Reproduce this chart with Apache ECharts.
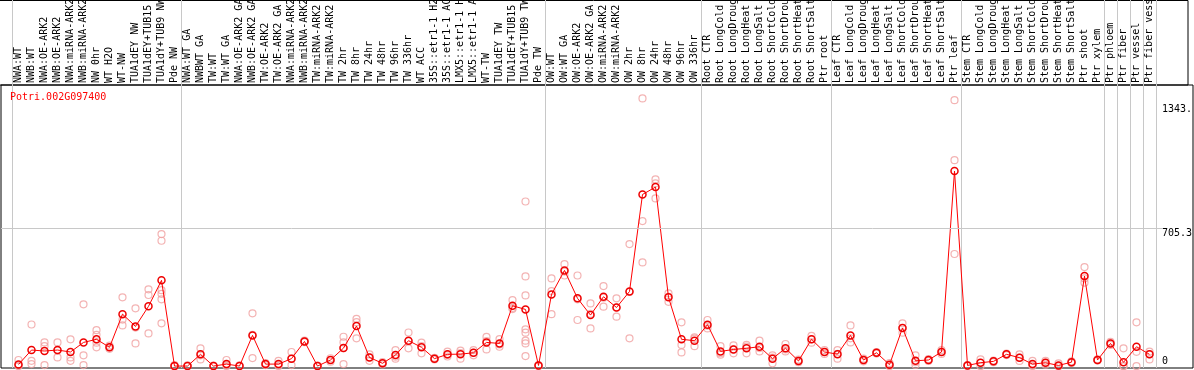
<!DOCTYPE html>
<html><head><meta charset="utf-8">
<script src="https://cdn.jsdelivr.net/npm/echarts@6/dist/echarts.min.js"></script>
<style>html,body{margin:0;padding:0;background:#fff}#c{width:1194px;height:370px}</style>
</head><body><div id="c"></div>
<script>
const geneName = 'Potri.002G097400';
const categories = [
  'NWA:WT','NWB:WT','NWA:OE-ARK2','NWB:OE-ARK2','NWA:miRNA-ARK2','NWB:miRNA-ARK2','NW 0hr','WT H2O','WT-NW',
  'TUA1dEY NW','TUA1dEY+TUB15','TUA1dY+TUB9 NW','Pde NW',
  'NWA:WT GA','NWBWT GA','TW:WT','TW:WT GA','NWA:OE-ARK2 GA','NWB:OE-ARK2 GA','TW:OE-ARK2','TW:OE-ARK2 GA',
  'NWA:miRNA-ARK2','NWB:miRNA-ARK2','TW:miRNA-ARK2','TW:miRNA-ARK2','TW 2hr','TW 8hr','TW 24hr','TW 48hr','TW 96hr','TW 336hr',
  'WT ACC','35S::etr1-1 H2O','35S::etr1-1 ACC','LMX5::etr1-1 H2O','LMX5::etr1-1 ACC','WT-TW','TUA1dEY TW','TUA1dEY+TUB15','TUA1dY+TUB9 TW','Pde TW',
  'OW:WT','OW:WT GA','OW:OE-ARK2','OW:OE-ARK2 GA','OW:miRNA-ARK2','OW:miRNA-ARK2','OW 2hr','OW 8hr','OW 24hr','OW 48hr','OW 96hr','OW 336hr',
  'Root CTR','Root LongCold','Root LongDrought','Root LongHeat','Root LongSalt','Root ShortCold','Root ShortDrought','Root ShortHeat','Root ShortSalt','Ptr root',
  'Leaf CTR','Leaf LongCold','Leaf LongDrought','Leaf LongHeat','Leaf LongSalt','Leaf ShortCold','Leaf ShortDrought','Leaf ShortHeat','Leaf ShortSalt','Ptr leaf',
  'Stem CTR','Stem LongCold','Stem LongDrought','Stem LongHeat','Stem LongSalt','Stem ShortCold','Stem ShortDrought','Stem ShortHeat','Stem ShortSalt','Ptr shoot','Ptr xylem',
  'Ptr phloem','Ptr fiber','Ptr vessel','Ptr fiber vessel'
];
const meanValues = [
  8,82,77,82,72,121,137,96,266,203,306,439,0,
  0,60,0,10,0,157,10,10,38,126,0,31,92,205,44,14,56,130,
  96,38,60,61,68,121,116,309,290,3,
  367,490,347,261,355,300,382,879,917,352,137,130,
  212,75,85,91,99,38,91,26,137,72,
  61,157,31,68,7,195,27,31,72,999,
  3,17,24,60,43,10,17,3,20,461,31,
  116,19,99,60
];
const replicateValues = [
  [31,3,0],[213,27,10],[121,102,5],[121,44,80],[137,44,27],[316,55,5],[184,160,120,96],[105,96,88],[352,238,208],
  [296,197,116],[393,364,167],[676,642,389,370,342,219],[5,0,0],
  [3,0],[91,55,34],[2,0],[31,5,0],[3,0],[270,160,41],[15,8,5],[27,5,0],[72,38,5],[130,126,122],[2,0],[40,31,22],
  [150,121,92,10],[242,225,142],[60,44,27],[20,14,8],[82,48,38],[172,127,91],
  [120,102,65],[42,38,34],[74,57,49],[79,66,38],[82,68,55],[149,128,85],[138,111,99],[338,298,292],
  [843,459,362,188,171,130,116,51],[5,2,0],
  [449,384,266],[522,484,464],[464,342,236],[321,268,193],[410,350,304],[347,300,253],[625,380,142],
  [1371,743,531],[956,936,859],[372,355,329],[224,108,70],[147,140,102],
  [236,207,193],[102,58,65],[106,85,65],[108,100,65],[130,92,75],[43,55,14],[113,85,75],[33,26,20],[155,137,120],[82,72,62],
  [82,62,38],[208,142,121],[38,31,24],[72,68,64],[15,5,0],[219,195,171],[55,20,6],[36,31,26],[82,72,62],[1362,1055,574],
  [5,3,0],[34,17,0],[28,24,20],[64,60,56],[60,43,26],[27,5,0],[27,17,7],[14,0,0],[24,20,16],[507,449,427],[34,31,28],
  [124,116,108],[91,0,0],[224,73,0],[74,60,34]
];
const yTickValues = [0, 705.3, 1343];
const yTickLabels = ['0', '705.3', '1343.'];
const groupStarts = [0, 13, 41, 53, 63, 73, 84, 85, 86, 87];
const gridLineValue = 705.3;

const FONT = 'DejaVu Sans Mono';
const Y_MIN = -10, Y_MAX = 1440;
const GRID_COLOR = '#c8c8c8';

const repData = [];
replicateValues.forEach((arr, i) => arr.forEach(v => repData.push([i, v])));
const tickLabel = v => { const k = yTickValues.indexOf(v); return k >= 0 ? yTickLabels[k] : ''; };
const sepInterval = (idx) => groupStarts.indexOf(idx) >= 0;

const chart = echarts.init(document.getElementById('c'), null, {renderer: 'canvas'});
chart.setOption({
  animation: false,
  backgroundColor: '#fff',
  title: {text: geneName, left: 10, top: 92, padding: 0,
    textStyle: {color: '#ff0000', fontSize: 10, fontWeight: 'normal', fontFamily: FONT}},
  grid: [
    {left: 12, right: 38, top: 85, bottom: 2, outerBoundsMode: 'none', containLabel: false},
    {left: 1, right: 31, top: 85, bottom: 2, outerBoundsMode: 'none'},
    {left: 1, right: 1, top: 85, bottom: 2, show: true, borderColor: '#000', borderWidth: 1, backgroundColor: 'transparent', outerBoundsMode: 'none'},
    {left: 12, right: 38, top: 0, height: 85, outerBoundsMode: 'none'},
    {left: -5, right: 6, top: 0.5, height: 84.5, show: true, borderColor: '#000', borderWidth: 1, backgroundColor: 'transparent', outerBoundsMode: 'none'}
  ],
  xAxis: [
    {gridIndex: 0, type: 'category', data: categories, position: 'top', boundaryGap: true,
      axisLine: {show: false}, axisTick: {show: false},
      axisLabel: {interval: 0, rotate: 90, margin: 2, fontSize: 10, fontFamily: FONT, color: '#000', hideOverlap: false},
      splitLine: {show: true, interval: sepInterval, lineStyle: {color: GRID_COLOR, width: 1}}},
    {gridIndex: 1, type: 'value', min: 0, max: 1, show: false},
    {gridIndex: 2, type: 'value', min: 0, max: 1, show: false},
    {gridIndex: 3, type: 'category', data: categories, boundaryGap: true,
      axisLine: {show: false}, axisTick: {show: false}, axisLabel: {show: false},
      splitLine: {show: true, interval: sepInterval, lineStyle: {color: GRID_COLOR, width: 1}}},
    {gridIndex: 4, type: 'value', min: 0, max: 1, show: false}
  ],
  yAxis: [
    {gridIndex: 0, type: 'value', min: Y_MIN, max: Y_MAX, position: 'right',
      axisLine: {show: false}, axisTick: {show: false}, splitLine: {show: false},
      axisLabel: {customValues: [yTickValues[1], yTickValues[2]], formatter: tickLabel, verticalAlign: 'top',
        margin: 6, fontSize: 10, fontFamily: FONT, color: '#000'}},
    {gridIndex: 0, type: 'value', min: Y_MIN, max: Y_MAX, position: 'right',
      axisLine: {show: false}, axisTick: {show: false}, splitLine: {show: false},
      axisLabel: {customValues: [yTickValues[0]], formatter: tickLabel, verticalAlign: 'bottom',
        margin: 6, fontSize: 10, fontFamily: FONT, color: '#000'}},
    {gridIndex: 1, type: 'value', min: Y_MIN, max: Y_MAX, show: false},
    {gridIndex: 2, type: 'value', min: 0, max: 1, show: false},
    {gridIndex: 3, type: 'value', min: 0, max: 1, show: false},
    {gridIndex: 4, type: 'value', min: 0, max: 1, show: false}
  ],
  series: [
    {type: 'line', xAxisIndex: 1, yAxisIndex: 2, data: [], silent: true,
      markLine: {silent: true, symbol: 'none', label: {show: false},
        lineStyle: {color: GRID_COLOR, type: 'solid', width: 1}, data: [{yAxis: gridLineValue}]}},
    {type: 'scatter', xAxisIndex: 0, yAxisIndex: 0, data: repData, symbol: 'circle', symbolSize: 7, z: 2,
      itemStyle: {color: 'rgba(0,0,0,0)', borderColor: '#f0a0a0', borderWidth: 1.2}},
    {type: 'line', xAxisIndex: 0, yAxisIndex: 0, data: meanValues, symbol: 'circle', symbolSize: 7, showSymbol: true, z: 3,
      itemStyle: {color: 'rgba(0,0,0,0)', borderColor: '#ee0000', borderWidth: 1.5},
      lineStyle: {color: '#ff0000', width: 1}}
  ]
});
</script></body></html>
